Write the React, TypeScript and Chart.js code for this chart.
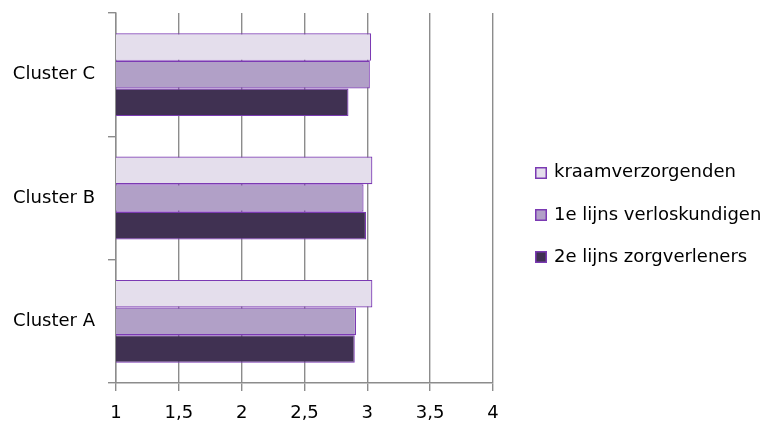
import React, { useEffect, useRef } from "react";
import { Chart, registerables } from "chart.js";

Chart.register(...registerables);

const categories = ["Cluster C", "Cluster B", "Cluster A"];
const seriesNames = ["kraamverzorgenden", "1e lijns verloskundigen", "2e lijns zorgverleners"];
const kraamverzorgenden = [3.03, 3.04, 3.04];
const eersteLijns = [3.02, 2.97, 2.91];
const tweedeLijns = [2.85, 2.99, 2.9];
const xMin = 1;
const xMax = 4;
const xStep = 0.5;

const FILLS = ["#E4DEEC", "#B1A0C7", "#403152"];
const BORDER = "#7B3AB3";
const GRID = "#8C8C8C";
const FONT_FAMILY = "'DejaVu Sans', sans-serif";
const FONT_SIZE = 18;

const legendPlugin = {
  id: "sideLegend",
  afterDraw(chart: any) {
    const ctx = chart.ctx;
    const boxX = 535;
    const boxSize = 12;
    const textX = 554;
    const firstY = 172.7;
    const step = 42.3;
    ctx.save();
    chart.data.datasets.forEach((ds: any, i: number) => {
      const cy = firstY + i * step;
      const top = Math.round(cy - boxSize / 2);
      ctx.fillStyle = ds.backgroundColor;
      ctx.fillRect(boxX, top, boxSize, boxSize);
      ctx.strokeStyle = BORDER;
      ctx.lineWidth = 1.5;
      ctx.strokeRect(boxX + 0.75, top + 0.75, boxSize - 1.5, boxSize - 1.5);
      ctx.fillStyle = "#000";
      ctx.font = `${FONT_SIZE}px ${FONT_FAMILY}`;
      ctx.textBaseline = "middle";
      ctx.textAlign = "left";
      ctx.fillText(ds.label, textX, cy);
    });
    ctx.restore();
  },
};

export default function App() {
  const ref = useRef<HTMLCanvasElement | null>(null);
  useEffect(() => {
    if (!ref.current) return;
    const values = [kraamverzorgenden, eersteLijns, tweedeLijns];
    const chart = new Chart(ref.current, {
      type: "bar",
      data: {
        labels: categories,
        datasets: seriesNames.map((name, i) => ({
          label: name,
          data: values[i],
          backgroundColor: FILLS[i],
          borderColor: BORDER,
          borderWidth: 1.2,
          borderSkipped: false,
          categoryPercentage: 0.672,
          barPercentage: 1,
        })),
      },
      options: {
        indexAxis: "y",
        responsive: false,
        animation: false,
        layout: { padding: { top: 13, right: 276, bottom: 0, left: 0 } },
        plugins: { legend: { display: false }, tooltip: { enabled: false } },
        scales: {
          x: {
            type: "linear",
            min: xMin,
            max: xMax,
            ticks: {
              stepSize: xStep,
              color: "#000",
              padding: 12,
              font: { family: FONT_FAMILY, size: FONT_SIZE },
              callback: (v: any) => String(v).replace(".", ","),
            },
            grid: { color: GRID, lineWidth: 1.4, tickLength: 8 },
            border: { color: GRID, width: 1.4 },
            afterFit: (s: any) => {
              s.height = 39;
              s.paddingLeft = 0;
              s.paddingRight = 0;
            },
          },
          y: {
            type: "category",
            ticks: {
              color: "#000",
              padding: 13,
              font: { family: FONT_FAMILY, size: FONT_SIZE },
            },
            grid: { drawOnChartArea: false, color: GRID, lineWidth: 1.4, tickLength: 8, offset: true },
            border: { color: GRID, width: 1.4 },
            afterFit: (s: any) => {
              s.width = 116;
              s.paddingTop = 0;
              s.paddingBottom = 0;
            },
          },
        },
      } as any,
      plugins: [legendPlugin],
    });
    return () => chart.destroy();
  }, []);
  return (
    <div style={{ position: "absolute", left: 0, top: 0, width: 769, height: 422, background: "#fff" }}>
      <canvas ref={ref} width={769} height={422} style={{ display: "block" }} />
    </div>
  );
}
